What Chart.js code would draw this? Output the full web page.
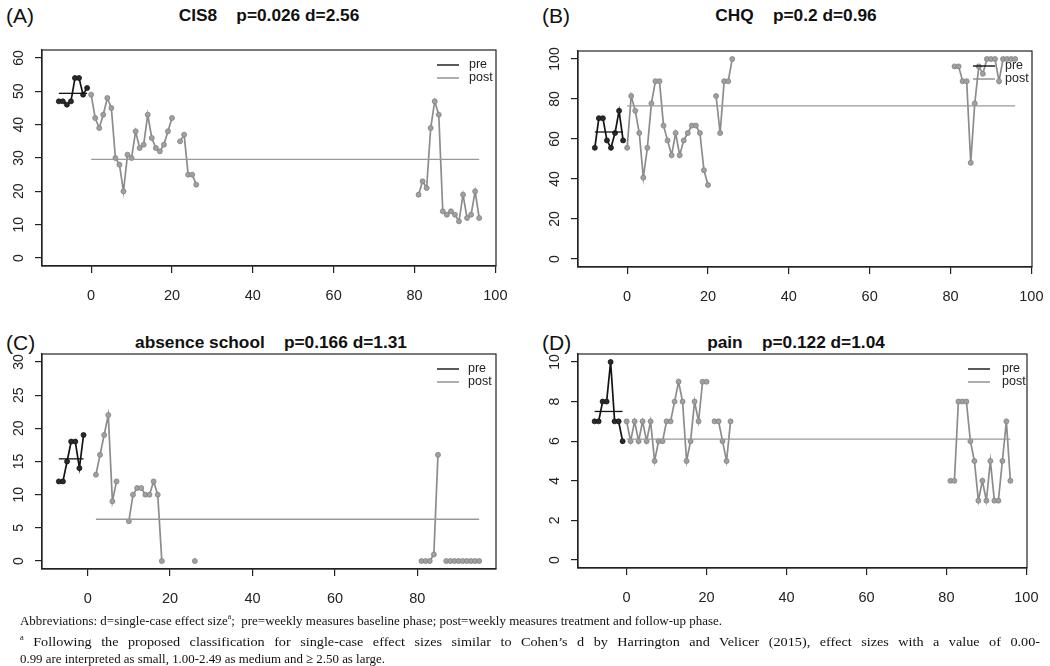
<!DOCTYPE html>
<html lang="en">
<head>
<meta charset="UTF-8">
<title>Single-case outcomes</title>
<script src="https://cdn.jsdelivr.net/npm/chart.js"></script>
<style>
  body { margin: 0; width: 1050px; height: 666px; background: #fff; position: relative; overflow: hidden;
         font-family: "Liberation Sans", Arial, sans-serif; color: #111; }
  canvas { position: absolute; }
  .tag { position: absolute; font-size: 21px; line-height: 22px; }
  .title { position: absolute; font-weight: bold; font-size: 16px; line-height: 18px; white-space: pre;
           transform: translateX(-50%) scaleX(1.08); }
  .note { position: absolute; left: 20px; top: 608px; font-family: "Liberation Serif", "Times New Roman", serif;
          font-size: 13.5px; line-height: 17.5px; }
  .note div { transform-origin: 0 50%; white-space: nowrap; }
  .note div.just { white-space: normal; text-align: justify; text-align-last: justify; }
  .note sup { font-size: 8px; }
</style>
</head>
<body>
<div class="tag" style="left:6px;top:5px">(A)</div>
<div class="tag" style="left:542px;top:5px">(B)</div>
<div class="tag" style="left:6px;top:332px">(C)</div>
<div class="tag" style="left:542px;top:332px">(D)</div>
<div class="title" style="left:269px;top:7px">CIS8    p=0.026 d=2.56</div>
<div class="title" style="left:796px;top:7px">CHQ    p=0.2 d=0.96</div>
<div class="title" style="left:271px;top:334px">absence school    p=0.166 d=1.31</div>
<div class="title" style="left:796px;top:334px">pain    p=0.122 d=1.04</div>

<canvas id="cA"></canvas>
<canvas id="cB"></canvas>
<canvas id="cC"></canvas>
<canvas id="cD"></canvas>

<div class="note">
  <div data-w="702">Abbreviations: d=single-case effect size<sup>a</sup>;&nbsp; pre=weekly measures baseline phase; post=weekly measures treatment and follow-up phase.</div>
  <div class="just" data-w="1020"><sup>a</sup> Following the proposed classification for single-case effect sizes similar to Cohen’s d by Harrington and Velicer (2015), effect sizes with a value of 0.00-</div>
  <div data-w="365">0.99 are interpreted as small, 1.00-2.49 as medium and ≥ 2.50 as large.</div>
</div>

<script>
// x ticks (weeks) shared by all panels
const weekTicks = [0, 20, 40, 60, 80, 100];

// (A) CIS8
const cisPreWeeks = [-8, -7, -6, -5, -4, -3, -2, -1];
const cisPre = [47, 47, 46, 47, 54, 54, 49, 51];
const cisPostWeeks = [0, 1, 2, 3, 4, 5, 6, 7, 8, 9, 10, 11, 12, 13, 14, 15, 16, 17, 18, 19, 20, 21, 22, 23, 24, 25, 26,
  50, 81, 82, 83, 84, 85, 86, 87, 88, 89, 90, 91, 92, 93, 94, 95, 96];
const cisPost = [49, 42, 39, 43, 48, 45, 30, 28, 20, 31, 30, 38, 33, 34, 43, 36, 33, 32, 34, 38, 42, null, 35, 37, 25, 25, 22,
  null, 19, 23, 21, 39, 47, 43, 14, 13, 14, 13, 11, 19, 12, 13, 20, 12];
const cisMeans = [49.4, 29.6];
const cisYTicks = [0, 10, 20, 30, 40, 50, 60];

// (B) CHQ
const chqPreWeeks = [-8, -7, -6, -5, -4, -3, -2, -1];
const chqPre = [55.6, 70.4, 70.4, 59.3, 55.6, 63, 74.1, 59.3];
const chqPostWeeks = [0, 1, 2, 3, 4, 5, 6, 7, 8, 9, 10, 11, 12, 13, 14, 15, 16, 17, 18, 19, 20, 21, 22, 23, 24, 25, 26,
  50, 81, 82, 83, 84, 85, 86, 87, 88, 89, 90, 91, 92, 93, 94, 95, 96];
const chqPost = [55.6, 81.5, 74.1, 63, 40.7, 55.6, 77.8, 88.9, 88.9, 66.7, 59.3, 51.9, 63, 51.9, 59.3, 63, 66.7, 66.7, 63, 44.4, 37,
  null, 81.5, 63, 88.9, 88.9, 100,
  null, 96.3, 96.3, 88.9, 88.9, 48.1, 77.8, 96.3, 92.6, 100, 100, 100, 88.9, 100, 100, 100, 100];
const chqMeans = [63.5, 76.6];
const chqYTicks = [0, 20, 40, 60, 80, 100];

// (C) absence school
const absPreWeeks = [-7, -6, -5, -4, -3, -2, -1];
const absPre = [12, 12, 15, 18, 18, 14, 19];
const absPostWeeks = [2, 3, 4, 5, 6, 7, 8, 10, 11, 12, 13, 14, 15, 16, 17, 18, 19, 26, 50,
  81, 82, 83, 84, 85, 86, 87, 88, 89, 90, 91, 92, 93, 94, 95];
const absPost = [13, 16, 19, 22, 9, 12, null, 6, 10, 11, 11, 10, 10, 12, 10, 0, null, 0, null,
  0, 0, 0, 1, 16, null, 0, 0, 0, 0, 0, 0, 0, 0, 0];
const absMeans = [15.4, 6.3];
const absYTicks = [0, 5, 10, 15, 20, 25, 30];

// (D) pain
const painPreWeeks = [-8, -7, -6, -5, -4, -3, -2, -1];
const painPre = [7, 7, 8, 8, 10, 7, 7, 6];
const painPostWeeks = [0, 1, 2, 3, 4, 5, 6, 7, 8, 9, 10, 11, 12, 13, 14, 15, 16, 17, 18, 19, 20, 21, 22, 23, 24, 25, 26,
  50, 81, 82, 83, 84, 85, 86, 87, 88, 89, 90, 91, 92, 93, 94, 95, 96];
const painPost = [7, 6, 7, 6, 7, 6, 7, 5, 6, 6, 7, 7, 8, 9, 8, 5, 6, 8, 7, 9, 9, null, 7, 7, 6, 5, 7,
  null, 4, 4, 8, 8, 8, 6, 5, 3, 4, 3, 5, 3, 3, 5, 7, 4];
const painMeans = [7.5, 6.1];
const painYTicks = [0, 2, 4, 6, 8, 10];

const PRE = '#141414';
const POST = '#8c8c8c';
const AXIS = '#222';

function pts(weeks, vals) {
  return weeks.map((w, i) => ({ x: w, y: vals[i] }));
}

// box around plot, rotated y labels (R style) and legend inside top-right
const rStyle = {
  id: 'rStyle',
  afterDraw(chart, args, opts) {
    const ctx = chart.ctx;
    const a = chart.chartArea;
    const ys = chart.scales.y;
    ctx.save();
    ctx.strokeStyle = AXIS;
    ctx.lineWidth = 1.2;
    ctx.strokeRect(a.left, a.top, a.right - a.left, a.bottom - a.top);

    ctx.fillStyle = '#222';
    ctx.font = '14px "Liberation Sans", Arial, sans-serif';
    ctx.textAlign = 'center';
    ctx.textBaseline = 'middle';
    opts.yTicks.forEach(v => {
      const py = ys.getPixelForValue(v);
      ctx.save();
      ctx.translate(a.left - 23, py);
      ctx.rotate(-Math.PI / 2);
      ctx.fillText(String(v), 0, 0);
      ctx.restore();
    });

    // legend
    ctx.font = '12.5px "Liberation Sans", Arial, sans-serif';
    ctx.textAlign = 'left';
    [['pre', PRE, 15], ['post', POST, 28]].forEach(([label, col, dy]) => {
      ctx.strokeStyle = col;
      ctx.lineWidth = 1.4;
      ctx.beginPath();
      ctx.moveTo(a.right - 59, a.top + dy);
      ctx.lineTo(a.right - 37, a.top + dy);
      ctx.stroke();
      ctx.fillStyle = '#222';
      ctx.fillText(label, a.right - opts.legendGap, a.top + dy);
    });
    ctx.restore();
  }
};

function makePanel(id, box, xRange, yRange, yTicks, preWeeks, pre, postWeeks, post, means, legendGap) {
  const [L, T, R, B] = box;
  const padL = 42, padT = 10, padR = 30, padB = 44;
  const cv = document.getElementById(id);
  cv.style.left = (L - padL) + 'px';
  cv.style.top = (T - padT) + 'px';
  cv.width = R - L + padL + padR;
  cv.height = B - T + padT + padB;

  const preSpan = [preWeeks[0], preWeeks[preWeeks.length - 1]];
  const postSpan = [postWeeks[0], postWeeks[postWeeks.length - 1]];

  new Chart(cv, {
    type: 'scatter',
    data: {
      datasets: [
        { data: pts(preSpan, [means[0], means[0]]), showLine: true, borderColor: PRE, borderWidth: 1.3, pointRadius: 0 },
        { data: pts(postSpan, [means[1], means[1]]), showLine: true, borderColor: '#999', borderWidth: 1.3, pointRadius: 0 },
        { data: pts(preWeeks, pre), showLine: true, borderColor: PRE, borderWidth: 1.7,
          pointRadius: 2.5, pointBackgroundColor: '#2a2a2a', pointBorderColor: PRE, pointBorderWidth: 0.8 },
        { data: pts(postWeeks, post), showLine: true, borderColor: POST, borderWidth: 1.7,
          pointRadius: 2.5, pointBackgroundColor: '#a0a0a0', pointBorderColor: '#838383', pointBorderWidth: 0.8 }
      ]
    },
    options: {
      responsive: false,
      animation: false,
      devicePixelRatio: 1,
      layout: { padding: { top: padT, right: padR, left: 0, bottom: 0 } },
      plugins: { legend: { display: false }, tooltip: { enabled: false }, rStyle: { yTicks, legendGap } },
      scales: {
        x: {
          type: 'linear', min: xRange[0], max: xRange[1],
          afterBuildTicks: s => { s.ticks = weekTicks.filter(v => v >= s.min && v <= s.max).map(v => ({ value: v })); },
          afterFit: s => { s.height = padB; },
          grid: { drawOnChartArea: false, drawTicks: true, tickLength: 7, color: AXIS, lineWidth: 1.2 },
          border: { display: true, color: AXIS, width: 1.2 },
          ticks: { color: '#222', padding: 14, maxRotation: 0, font: { family: '"Liberation Sans", Arial, sans-serif', size: 14.5 } }
        },
        y: {
          type: 'linear', min: yRange[0], max: yRange[1],
          afterBuildTicks: s => { s.ticks = yTicks.map(v => ({ value: v })); },
          afterFit: s => { s.width = padL; },
          grid: { drawOnChartArea: false, drawTicks: true, tickLength: 7, color: AXIS, lineWidth: 1.2 },
          border: { display: true, color: AXIS, width: 1.2 },
          ticks: { display: false }
        }
      }
    },
    plugins: [rStyle]
  });
}

makePanel('cA', [42, 50, 496, 266], [-12.16, 100.16], [-2.4, 62.4], cisYTicks, cisPreWeeks, cisPre, cisPostWeeks, cisPost, cisMeans, 27);
makePanel('cB', [578, 51, 1032, 267], [-12.16, 100.16], [-4, 104], chqYTicks, chqPreWeeks, chqPre, chqPostWeeks, chqPost, chqMeans, 27);
makePanel('cC', [42, 354, 496, 569], [-11.08, 99.08], [-1.2, 31.2], absYTicks, absPreWeeks, absPre, absPostWeeks, absPost, absMeans, 28);
makePanel('cD', [578, 354, 1027, 568], [-12.16, 100.16], [-0.4, 10.4], painYTicks, painPreWeeks, painPre, painPostWeeks, painPost, painMeans, 25);

// fit footnote lines to the widths they take in the figure; the middle line is
// widened a little and justified for the rest
const lines = [...document.querySelectorAll('.note div')];
const scales = [];
lines.forEach(d => {
  if (d.classList.contains('just')) return;
  d.style.display = 'inline-block';
  const s = +d.dataset.w / d.getBoundingClientRect().width;
  d.style.display = 'block';
  d.style.transform = 'scaleX(' + s.toFixed(3) + ')';
  scales.push(s);
});
const sAvg = scales.reduce((a, b) => a + b, 0) / scales.length;
lines.filter(d => d.classList.contains('just')).forEach(d => {
  d.style.display = 'inline-block';
  d.style.whiteSpace = 'nowrap';
  const natural = d.getBoundingClientRect().width;
  d.style.display = 'block';
  d.style.whiteSpace = '';
  const full = +d.dataset.w / natural;
  const s = Math.min(full, sAvg * 1.1);
  d.style.width = (+d.dataset.w / s) + 'px';
  d.style.transform = 'scaleX(' + s.toFixed(3) + ')';
});
</script>
</body>
</html>
